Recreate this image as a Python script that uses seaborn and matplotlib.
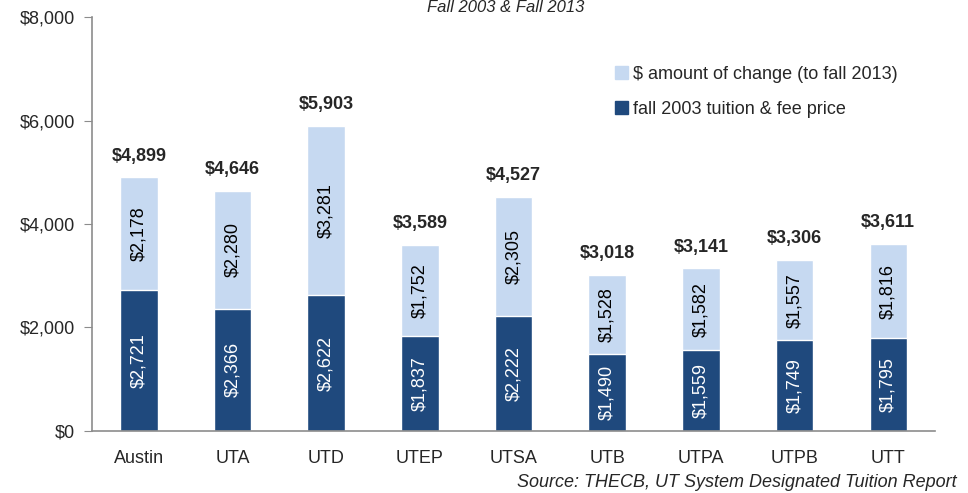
import matplotlib
matplotlib.use("Agg")
import matplotlib.pyplot as plt
import seaborn as sns
import pandas as pd
from matplotlib.patches import Patch

# Datos
campuses = ["Austin", "UTA", "UTD", "UTEP", "UTSA", "UTB", "UTPA", "UTPB", "UTT"]
fall_2003 = [2721, 2366, 2622, 1837, 2222, 1490, 1559, 1749, 1795]
change = [2178, 2280, 3281, 1752, 2305, 1528, 1582, 1557, 1816]
total_2013 = [4899, 4646, 5903, 3589, 4527, 3018, 3141, 3306, 3611]

dark = "#1F497D"
light = "#C6D9F1"
axis_gray = "#8C8C8C"

df = pd.DataFrame({"campus": campuses, "base": fall_2003,
                   "change": change, "total": total_2013})

sns.set_style("white")
plt.rcParams['font.family'] = ['Liberation Sans', 'DejaVu Sans']

fig = plt.figure(figsize=(9.68, 4.93), dpi=100)
ax = fig.add_axes([0.095, 0.1258, 0.871, 0.8397])

# barras apiladas: total en claro, base en oscuro encima
sns.barplot(data=df, x="campus", y="total", color=light, width=0.4,
            saturation=1, ax=ax)
sns.barplot(data=df, x="campus", y="base", color=dark, width=0.4,
            saturation=1, ax=ax)

for i, row in df.iterrows():
    ax.text(i, row["base"] / 2, f"${row['base']:,}", rotation=90,
            ha="center", va="center", color="white", fontsize=13)
    ax.text(i, row["base"] + row["change"] / 2, f"${row['change']:,}",
            rotation=90, ha="center", va="center", color="black", fontsize=13)
    ax.text(i, row["total"] + 250, f"${row['total']:,}", ha="center",
            va="bottom", fontsize=13, fontweight="bold")

ax.set_ylim(0, 8000)
ax.set_xlim(-0.5, len(campuses) - 0.5)
ax.set_yticks(range(0, 8001, 2000))
ax.set_yticklabels([f"${v:,}" for v in range(0, 8001, 2000)])
ax.set_xlabel("")
ax.set_ylabel("")

# ticks del eje x entre categorias
ax.set_xticks([i - 0.5 for i in range(len(campuses) + 1)], minor=True)
ax.tick_params(axis="x", which="major", length=0, labelsize=13, pad=14)
ax.tick_params(axis="x", which="minor", length=6, color=axis_gray, direction="out")
ax.tick_params(axis="y", length=6, color=axis_gray, direction="out",
               labelsize=13, pad=6, left=True)

sns.despine(ax=ax)
for side in ["left", "bottom"]:
    ax.spines[side].set_color(axis_gray)
    ax.spines[side].set_linewidth(1.2)

handles = [Patch(color=light, label="$ amount of change (to fall 2013)"),
           Patch(color=dark, label="fall 2003 tuition & fee price")]
ax.legend(handles=handles, loc="upper right", bbox_to_anchor=(0.975, 0.922),
          frameon=False, fontsize=13, handlelength=0.7, handleheight=0.7,
          handletextpad=0.3, labelspacing=1.0)

fig.text(0.522, 0.999, "Fall 2003 & Fall 2013", ha="center", va="top",
         fontsize=12, style="italic")
fig.text(0.988, 0.022, "Source: THECB, UT System Designated Tuition Report",
         ha="right", va="center", fontsize=13, style="italic")

fig.savefig("out.png", dpi=100)
